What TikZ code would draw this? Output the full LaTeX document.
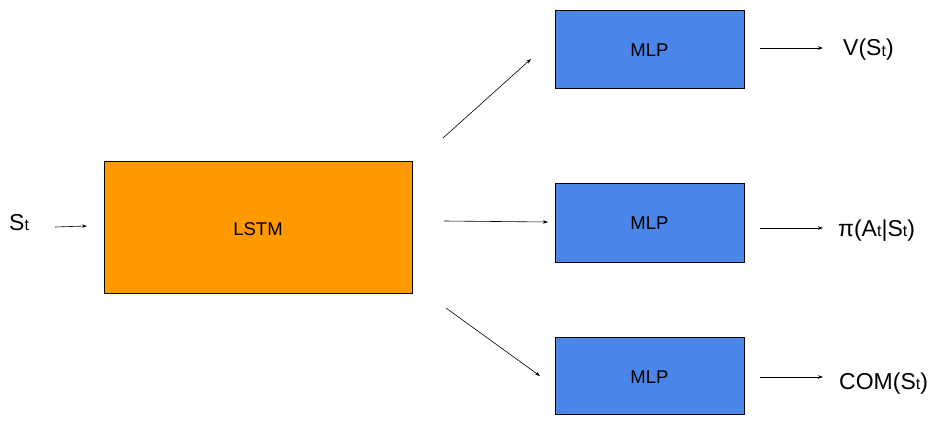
\documentclass[tikz,border=0pt]{standalone}
\usepackage{fontspec}
\setmainfont{Liberation Sans}
\usetikzlibrary{arrows.meta}
\definecolor{lstmorange}{HTML}{FF9900}
\definecolor{mlpblue}{HTML}{4A86E8}
\newcommand{\tsub}[1]{\raisebox{-0.04em}{\fontsize{16}{16}\selectfont #1}}
\begin{document}
\begin{tikzpicture}[x=1pt,y=-1pt,
  box/.style={draw=black, line width=0.8pt, inner sep=0pt},
  lstmbox/.style={box, fill=lstmorange},
  mlpbox/.style={box, fill=mlpblue},
  boxtext/.style={font=\fontsize{18.5}{20}\selectfont, inner sep=0pt, anchor=base},
  lbl/.style={font=\fontsize{23}{25}\selectfont, inner sep=0pt, anchor=base west},
  arr/.style={-{Stealth[length=5pt,width=3.5pt]}, line width=0.6pt}]
\useasboundingbox (0,0) rectangle (949,425);
\fill[white] (0,0) rectangle (949,425);
% boxes
\draw[lstmbox] (104,161) rectangle (412,293);
\node[boxtext] (lstm) at (258,235) {LSTM};
\draw[mlpbox] (555,10) rectangle (744,88);
\node[boxtext] (mlp1) at (649.5,56.5) {MLP};
\draw[mlpbox] (555,183) rectangle (744,262);
\node[boxtext] (mlp2) at (649.5,229.5) {MLP};
\draw[mlpbox] (555,337) rectangle (744,414);
\node[boxtext] (mlp3) at (649.5,383.5) {MLP};
% labels
\node[lbl] (st) at (9,230) {S\tsub{t}};
\node[lbl] (v) at (843,56) {V(S\tsub{t})};
\node[lbl] (pi) at (838,236) {π(A\tsub{t}|S\tsub{t})};
\node[lbl] (com) at (839,389) {COM(S\tsub{t})};
% arrow endpoints
\coordinate (a0s) at (55,227); \coordinate (a0e) at (87,226);
\coordinate (a1s) at (443,138); \coordinate (a1e) at (531,59);
\coordinate (a2s) at (444,221); \coordinate (a2e) at (548,222);
\coordinate (a3s) at (446,308); \coordinate (a3e) at (540,376);
\coordinate (b1s) at (760,48); \coordinate (b1e) at (823,48);
\coordinate (b2s) at (760,228); \coordinate (b2e) at (823,228);
\coordinate (b3s) at (760,377); \coordinate (b3e) at (823,377);
\draw[arr] (a0s) -- (a0e);
\draw[arr] (a1s) -- (a1e);
\draw[arr] (a2s) -- (a2e);
\draw[arr] (a3s) -- (a3e);
\draw[arr] (b1s) -- (b1e);
\draw[arr] (b2s) -- (b2e);
\draw[arr] (b3s) -- (b3e);
\end{tikzpicture}
\end{document}
